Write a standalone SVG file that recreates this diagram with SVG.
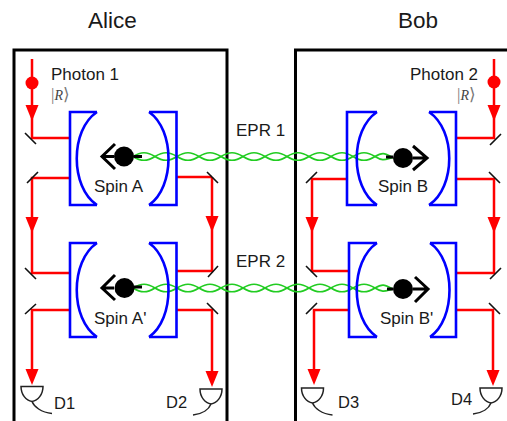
<svg xmlns="http://www.w3.org/2000/svg" width="507" height="421" viewBox="0 0 507 421">
<defs>
<style>
text{font-family:"Liberation Sans",Arial,sans-serif;fill:#1a1a1a;font-size:17px}
.ti{font-size:22.500px}
.lb{font-size:16.500px}
.k{font-family:"Liberation Serif",serif;font-size:14px;fill:#444}
.k .i{font-style:italic}
.k .b{font-size:17px;fill:#777}
.box{fill:none;stroke:#000;stroke-width:3}
.cav{fill:none;stroke:#0000ff;stroke-width:2.600}
.ray{fill:none;stroke:#ff0000;stroke-width:2.500}
.mir{fill:none;stroke:#111;stroke-width:1.600}
.tip{fill:#ff0000;stroke:none}
.arr{fill:none;stroke:#000;stroke-width:3}
.det{fill:none;stroke:#222;stroke-width:1.500}
.epr{fill:none;stroke:#22cc22;stroke-width:1.700}
</style>
<path id="down" class="tip" d="M-6.500 0H6.500L0 16Z"/>
<path id="det1" class="det" d="M-11 0H11C11 8 6 14 0 15C-6 14 -11 8 -11 0ZM0 15C2 20 9 26 20 27"/>
<path id="det2" class="det" d="M-11 0H11C11 8 6 14 0 15C-6 14 -11 8 -11 0ZM0 15C-2 20 -8 25 -18 26"/>
<g id="wave">
<path class="epr" d="M133 0C141 -5 147 -5 155 0S169 5 177 0S191 -5 199 0S213 5 221 0S235 -5 243 0S257 5 265 0S279 -5 287 0S301 5 309 0S323 -5 331 0S345 5 353 0S367 -5 375 0S385 3 393 1"/>
<path class="epr" d="M133 0C141 5 147 5 155 0S169 -5 177 0S191 5 199 0S213 -5 221 0S235 5 243 0S257 -5 265 0S279 5 287 0S301 -5 309 0S323 5 331 0S345 -5 353 0S367 5 375 0S385 -3 393 1"/>
</g>
</defs>
<g id="titles"><text class="ti" x="88" y="28">Alice</text><text class="ti" x="398" y="28">Bob</text></g>
<g id="alice-box"><path class="box" d="M14 423V50H227V423"/></g>
<g id="bob-box"><path class="box" d="M295.500 423V50H510"/></g>
<g id="connectors">
<path class="ray" d="M32 59V138H71M70 178H32V222M212 177H176M212 177V222M32 226V273H70M70 310H32V372M212 226V271H176M176 310H212V374"/>
<path class="ray" d="M494 59V138H455M455 179H494V222M348 179H312V222M312 226V271H349M349 310H314V372M494 226V273H455M456 310H493V372"/>
<path class="mir" d="M25 133L36 144M27 183L38 172M207 172L218 183M25 268L36 279M25 314L36 304M208 277L218 266M207 303L218 314"/>
<path class="mir" d="M490 145L501 134M489 172L500 183M306 183L317 172M306 266L317 277M306 314L317 303M490 279L501 268M489 303L500 314"/>
<use href="#wave" y="156.500"/>
<use href="#wave" y="288"/>
</g>
<g id="photon-1"><circle cx="32" cy="83" r="6.500" fill="#ff0000"/><use href="#down" x="32" y="105"/><text x="51" y="80">Photon 1</text><text class="k" x="51" y="100"><tspan class="b">|</tspan><tspan class="i">R</tspan><tspan class="b">⟩</tspan></text></g>
<g id="photon-2"><circle cx="494" cy="82" r="6.500" fill="#ff0000"/><use href="#down" x="494" y="105"/><text x="410" y="80">Photon 2</text><text class="k" x="457" y="100"><tspan class="b">|</tspan><tspan class="i">R</tspan><tspan class="b">⟩</tspan></text></g>
<g id="spin-a">
<path class="cav" d="M97 112H70V205H97M97 112C70 130 70 187 97 205M149 112H176.500V205H149M149 112C175 130 175 187 149 205"/>
<circle cx="124" cy="156.500" r="10" fill="#000"/><path class="arr" d="M114 156.500H102M115 144L102 156.500L115 169"/><path class="arr" d="M134 156.500H142" stroke-width="2"/><text x="94" y="192">Spin A</text></g>
<g id="spin-b">
<path class="cav" d="M377 112H347V205H377M377 112C350 130 350 187 377 205M429 112H456V205H429M429 112C456 130 456 187 429 205"/>
<circle cx="403" cy="158" r="10" fill="#000"/><path class="arr" d="M413 158H427M413 146L427 158L413 170"/><path class="arr" d="M386 157H393" stroke-width="2"/><text x="378" y="192">Spin B</text></g>
<g id="spin-a-prime">
<path class="cav" d="M97 243H70V337H97M97 243C70 261 70 319 97 337M149 243H176.500V337H149M149 243C175 261 175 319 149 337"/>
<circle cx="124.500" cy="288" r="10" fill="#000"/><path class="arr" d="M114 288H102M115 275L102 288L115 300"/><path class="arr" d="M134 287H142" stroke-width="2"/><text x="94" y="324">Spin A'</text></g>
<g id="spin-b-prime">
<path class="cav" d="M377 243H349V337H377M377 243C350 261 350 319 377 337M430 243H456V337H430M430 243C456 261 456 319 430 337"/>
<circle cx="403" cy="289" r="10" fill="#000"/><path class="arr" d="M413 289H428M415 277L428 289L415 302"/><path class="arr" d="M387 289H393" stroke-width="2"/><text x="380" y="324">Spin B'</text></g>
<g id="arrow-tips">
<use href="#down" x="32" y="217"/><use href="#down" x="212" y="216"/><use href="#down" x="312" y="217"/><use href="#down" x="494" y="217"/>
</g>
<g id="epr-labels"><text x="236" y="136">EPR 1</text><text x="236" y="267">EPR 2</text></g>
<g id="d1"><use href="#down" x="32" y="369"/><use href="#det1" x="32" y="386.500"/><text class="lb" x="54" y="409">D1</text></g>
<g id="d2"><use href="#down" x="212" y="371"/><use href="#det2" x="211" y="389"/><text class="lb" x="166" y="408">D2</text></g>
<g id="d3"><use href="#down" x="314" y="369"/><use href="#det1" x="312.500" y="388"/><text class="lb" x="338" y="408">D3</text></g>
<g id="d4"><use href="#down" x="493" y="370"/><use href="#det2" x="491" y="388"/><text class="lb" x="451" y="405">D4</text></g>
</svg>
